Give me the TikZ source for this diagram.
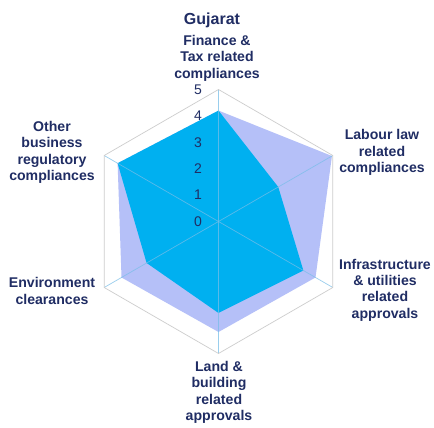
\documentclass[tikz,border=0pt]{standalone}
\usepackage{fontspec}
\setmainfont{Liberation Sans}
\definecolor{darkcyan}{RGB}{0,176,240}
\definecolor{lav}{RGB}{181,192,248}
\definecolor{txt}{RGB}{32,45,100}
\definecolor{spoke}{RGB}{120,190,232}
\definecolor{gridc}{RGB}{205,205,205}
\begin{document}
\begin{tikzpicture}[x=1pt,y=1pt,
  lbl/.style={font=\fontsize{14.1}{16.4}\selectfont\bfseries, text=txt, align=center, inner sep=0pt},
  ttl/.style={font=\fontsize{16}{19}\selectfont\bfseries, text=txt, inner sep=0pt},
  tick/.style={font=\fontsize{14}{16}\selectfont, text=txt, inner sep=0pt}]
\useasboundingbox (0,0) rectangle (434,428);
\fill[white] (0,0) rectangle (434,428);
\begin{scope}[shift={(218.5,206.5)}]
  \coordinate (C) at (0,0);
  % outer vertices
  \coordinate (o1) at (90:132);
  \coordinate (o2) at (30:132);
  \coordinate (o3) at (-30:132);
  \coordinate (o4) at (-90:132);
  \coordinate (o5) at (210:132);
  \coordinate (o6) at (150:132);
  % lavender series
  \coordinate (l1) at (90:110.9);
  \coordinate (l2) at (30:131);
  \coordinate (l3) at (-30:112);
  \coordinate (l4) at (-90:110.5);
  \coordinate (l5) at (210:112);
  \coordinate (l6) at (150:116.5);
  % cyan series
  \coordinate (d1) at (90:110.9);
  \coordinate (d2) at (30:69);
  \coordinate (d3) at (-30:98);
  \coordinate (d4) at (-90:91.5);
  \coordinate (d5) at (210:83);
  \coordinate (d6) at (150:116.5);
  \fill[lav] (l1)--(l2)--(l3)--(l4)--(l5)--(l6)--cycle;
  \fill[darkcyan] (d1)--(d2)--(d3)--(d4)--(d5)--(d6)--cycle;
  \foreach \i in {1,...,6} {\draw[spoke, line width=0.7pt, opacity=0.75] (C)--(o\i);}
  \draw[gridc, line width=0.7pt] (o1)--(o2)--(o3)--(o4)--(o5)--(o6)--cycle;
\end{scope}
\node[tick] (t5) at (198,338.5) {5};
\node[tick] (t4) at (198,312.1) {4};
\node[tick] (t3) at (198,285.7) {3};
\node[tick] (t2) at (198,259.3) {2};
\node[tick] (t1) at (198,232.9) {1};
\node[tick] (t0) at (198,206.5) {0};
\node[ttl] (title) at (212,408) {Gujarat};
\node[lbl] (fin) at (217,370) {Finance \&\\Tax related\\compliances};
\node[lbl] (lab) at (382,275.5) {Labour law\\related\\compliances};
\node[lbl] (inf) at (385,138) {Infrastructure\\\& utilities\\related\\approvals};
\node[lbl] (land) at (219,35.5) {Land \&\\building\\related\\approvals};
\node[lbl] (env) at (52,137) {Environment\\clearances};
\node[lbl] (oth) at (52,275.5) {Other\\business\\regulatory\\compliances};
\end{tikzpicture}
\end{document}
